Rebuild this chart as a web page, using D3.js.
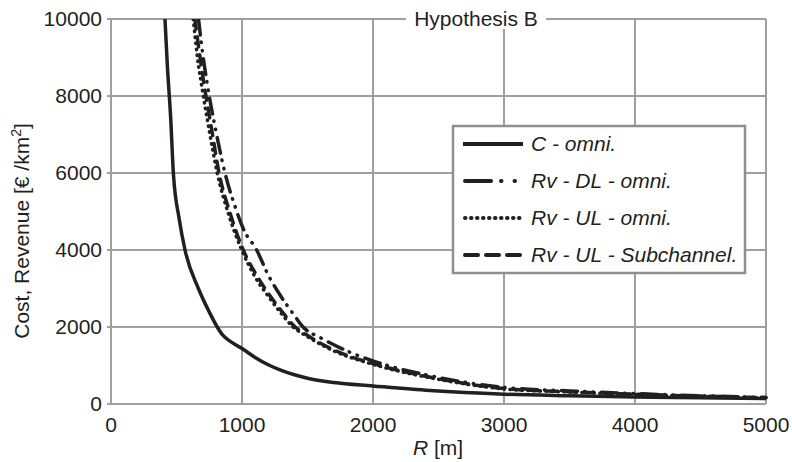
<!DOCTYPE html>
<html>
<head>
<meta charset="utf-8">
<script src="https://cdn.jsdelivr.net/npm/d3@7"></script>
<style>
  body { margin: 0; background: #fff; }
  text { font-family: "Liberation Sans", Arial, sans-serif; fill: #231f20; }
</style>
</head>
<body>
<div id="chart"></div>
<script>
(function(){

    // series: [R in m, value in €/km²]
    var costOmni = [[412,10000],[430,8800],[456,7400],[476,6000],[521,4800],[565,4000],[667,3000],[756,2350],[811,2000],[850,1800],[900,1650],[950,1540],[1000,1440],[1100,1210],[1200,1020],[1300,875],[1400,760],[1500,670],[1700,560],[2000,470],[2435,350],[3000,255],[3500,215],[4000,185],[4500,160],[5000,140]];
    var rvDlOmni = [[668,10000],[700,9100],[750,8000],[800,7100],[870,6000],[950,5100],[1010,4550],[1112,4000],[1200,3350],[1300,2780],[1400,2300],[1466,2000],[1600,1720],[1800,1380],[2000,1120],[2500,690],[3000,430],[3500,340],[4000,270],[4500,215],[5000,170]];
    var rvUlOmni = [[628,10000],[660,9000],[700,8100],[750,7100],[811,6000],[900,4900],[998,4000],[1100,3300],[1200,2800],[1300,2350],[1390,2000],[1500,1750],[1700,1380],[2000,1030],[2500,640],[3000,390],[3500,310],[4000,250],[4500,200],[5000,160]];
    var rvUlSub = [[640,10000],[680,9000],[720,8100],[770,7100],[825,6000],[910,4950],[1010,4000],[1110,3350],[1210,2830],[1310,2380],[1400,2020],[1510,1760],[1710,1390],[2000,1050],[2500,655],[3000,400],[3500,318],[4000,255],[4500,205],[5000,165]];

    var xTicks = [0, 1000, 2000, 3000, 4000, 5000];
    var yTicks = [0, 2000, 4000, 6000, 8000, 10000];
    var seriesNames = ["C - omni.", "Rv - DL - omni.", "Rv - UL - omni.", "Rv - UL - Subchannel."];

    var width = 792, height = 462;
    var left = 111, right = 766, top = 19, bottom = 404;
    var fs = 21;

    var svg = d3.select("#chart").append("svg")
        .attr("width", width)
        .attr("height", height);

    var x = d3.scaleLinear().domain([0, 5000]).range([left, right]);
    var y = d3.scaleLinear().domain([0, 10000]).range([bottom, top]);

    var grid = "#9d9fa2";

    // grid lines
    svg.append("g").selectAll("line")
        .data(xTicks)
        .enter().append("line")
        .attr("x1", function(d){ return x(d); })
        .attr("x2", function(d){ return x(d); })
        .attr("y1", top).attr("y2", bottom)
        .attr("stroke", grid).attr("stroke-width", 2);

    svg.append("g").selectAll("line")
        .data(yTicks)
        .enter().append("line")
        .attr("x1", left - 4).attr("x2", right)
        .attr("y1", function(d){ return y(d); })
        .attr("y2", function(d){ return y(d); })
        .attr("stroke", grid).attr("stroke-width", 2);

    // tick labels
    svg.append("g").selectAll("text")
        .data(xTicks)
        .enter().append("text")
        .attr("x", function(d){ return x(d); })
        .attr("y", bottom + 28)
        .attr("text-anchor", "middle")
        .attr("font-size", fs)
        .text(function(d){ return d; });

    svg.append("g").selectAll("text")
        .data(yTicks)
        .enter().append("text")
        .attr("x", left - 9)
        .attr("y", function(d){ return y(d) + 7; })
        .attr("text-anchor", "end")
        .attr("font-size", fs)
        .text(function(d){ return d; });

    // axis titles
    var xl = svg.append("text")
        .attr("x", 438).attr("y", 455)
        .attr("text-anchor", "middle")
        .attr("font-size", fs);
    xl.append("tspan").attr("font-style", "italic").text("R");
    xl.append("tspan").text(" [m]");

    var yl = svg.append("text")
        .attr("transform", "translate(29,231) rotate(-90)")
        .attr("text-anchor", "middle")
        .attr("font-size", fs);
    yl.append("tspan").text("Cost, Revenue [€ /km");
    yl.append("tspan").attr("dy", -8).attr("font-size", 14).text("2");
    yl.append("tspan").attr("dy", 8).text("]");

    // title over the top grid line
    svg.append("rect")
        .attr("x", 406).attr("y", top - 10)
        .attr("width", 140).attr("height", 20)
        .attr("fill", "#fff");
    svg.append("text")
        .attr("x", 476).attr("y", top + 7)
        .attr("text-anchor", "middle")
        .attr("font-size", fs)
        .text("Hypothesis B");

    // curves
    svg.append("clipPath").attr("id", "plot")
        .append("rect")
        .attr("x", left).attr("y", top)
        .attr("width", right - left + 3).attr("height", bottom - top);

    var line = d3.line()
        .x(function(d){ return x(d[0]); })
        .y(function(d){ return y(d[1]); })
        .curve(d3.curveMonotoneX);

    var styles = [
        { data: costOmni, dash: null, cap: "butt" },
        { data: rvDlOmni, dash: "16,7,0.5,8,0.5,8", cap: "round" },
        { data: rvUlOmni, dash: "0.5,5.5", cap: "round" },
        { data: rvUlSub, dash: "10,8", cap: "round" }
    ];

    var plot = svg.append("g").attr("clip-path", "url(#plot)");
    styles.forEach(function(s){
        plot.append("path")
            .attr("d", line(s.data))
            .attr("fill", "none")
            .attr("stroke", "#231f20")
            .attr("stroke-width", 3.5)
            .attr("stroke-linecap", s.cap)
            .attr("stroke-dasharray", s.dash);
    });

    // legend
    var lg = svg.append("g");
    lg.append("rect")
        .attr("x", 453).attr("y", 126)
        .attr("width", 292).attr("height", 147)
        .attr("fill", "#fff")
        .attr("stroke", "#8d8f92")
        .attr("stroke-width", 2.5);

    var legendDash = [null, "26,10,0.5,13,0.5,13", "0.5,5.5", "13,8"];
    var item = lg.selectAll("g")
        .data(seriesNames)
        .enter().append("g")
        .attr("transform", function(d, i){ return "translate(0," + (144 + i * 37) + ")"; });

    item.append("line")
        .attr("x1", function(d, i){ return i === 0 ? 463 : 465; })
        .attr("x2", 523)
        .attr("stroke", "#231f20")
        .attr("stroke-width", 4)
        .attr("stroke-linecap", function(d, i){ return i === 0 ? "butt" : "round"; })
        .attr("stroke-dasharray", function(d, i){ return legendDash[i]; });

    item.append("text")
        .attr("x", 531).attr("y", 7)
        .attr("font-size", fs)
        .attr("font-style", "italic")
        .text(function(d){ return d; });

})();
</script>
</body>
</html>
